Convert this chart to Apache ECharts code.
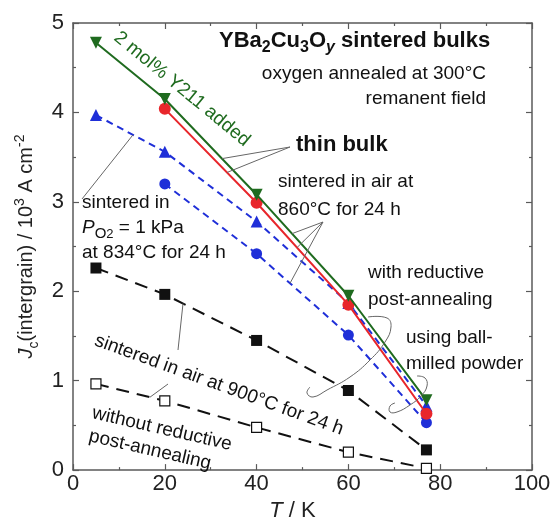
<!DOCTYPE html>
<html>
<head>
<meta charset="utf-8">
<script src="https://cdn.jsdelivr.net/npm/echarts@6/dist/echarts.min.js"></script>
<style>
  html, body { margin: 0; padding: 0; background: #fff; }
  #chart { width: 556px; height: 527px; }
</style>
</head>
<body>
<div id="chart"></div>
<script>
// temperatures (K) and Jc(intergrain) in 10^3 A/cm^2
const temps = [5, 20, 40, 60, 77]
const y211Added = [4.78, 4.15, 3.08, 1.95, 0.78]
const thinBulk = [null, 4.04, 2.99, 1.85, 0.63]
const po2Sintered = [3.97, 3.56, 2.78, 1.87, 0.72]
const ballMilled = [null, 3.2, 2.42, 1.51, 0.53]
const air900Reduced = [2.26, 1.965, 1.45, 0.89, 0.226]
const air900Plain = [0.964, 0.775, 0.477, 0.2, 0.02]

const FONT = "'Liberation Sans', Arial, sans-serif"
const AXIS_COLOR = "#5a5a5a"
const LEADER = "#666"

const pairs = (vals) => temps.map((t, i) => [t, vals[i]]).filter((p) => p[1] != null)

// point on a drawn series line at temperature x (for annotation leaders)
function onLine(vals, x) {
  for (let i = 0; i < temps.length - 1; i++) {
    if (vals[i] == null || vals[i + 1] == null) continue
    if (x >= temps[i] && x <= temps[i + 1]) {
      const f = (x - temps[i]) / (temps[i + 1] - temps[i])
      return [x, vals[i] + f * (vals[i + 1] - vals[i])]
    }
  }
  return [x, vals[0]]
}

const chart = echarts.init(document.getElementById("chart"), null, { renderer: "canvas" })

const axisCommon = {
  type: "value",
  axisLine: { show: true, onZero: false, lineStyle: { color: AXIS_COLOR, width: 1.5 } },
  axisTick: { show: true, inside: true, length: 6, lineStyle: { color: AXIS_COLOR, width: 1.2 } },
  minorTick: { show: true, splitNumber: 2, length: 3, lineStyle: { color: AXIS_COLOR, width: 1.2 } },
  splitLine: { show: false },
}

const line = (name, vals, color, symbol, opts = {}) => ({
  name,
  type: "line",
  data: pairs(vals),
  symbol,
  symbolSize: opts.size || 11,
  symbolRotate: opts.rotate || 0,
  itemStyle: { color: opts.fill || color, borderColor: color, borderWidth: opts.border || 0 },
  lineStyle: { color, width: 2, type: opts.dash || "solid" },
  emphasis: { disabled: true },
  z: opts.z || 2,
})

chart.setOption({
  animation: false,
  textStyle: { fontFamily: FONT },
  grid: { left: 73, right: 24, top: 23, bottom: 46 },
  xAxis: [
    {
      ...axisCommon,
      min: 0, max: 100, interval: 20,
      position: "bottom",
      axisLabel: { fontSize: 22, color: "#222", margin: 3, fontFamily: FONT },
      name: "{i|T} / K",
      nameLocation: "middle",
      nameGap: 27,
      nameTextStyle: {
        fontSize: 22, color: "#222", fontFamily: FONT, padding: [0, 20, 0, 0],
        rich: { i: { fontSize: 22, fontStyle: "italic", fontFamily: FONT } },
      },
    },
    { ...axisCommon, min: 0, max: 100, interval: 20, position: "top", axisLabel: { show: false } },
  ],
  yAxis: [
    {
      ...axisCommon,
      min: 0, max: 5, interval: 1,
      position: "left",
      axisLabel: { fontSize: 22, color: "#222", margin: 9, fontFamily: FONT },
      name: "{i|J}{sub|c}{n|(intergrain) / 10}{sup|3}{n| A cm}{sup|-2}",
      nameLocation: "middle",
      nameGap: 27,
      nameTextStyle: {
        color: "#222",
        rich: {
          n: { fontSize: 20, lineHeight: 28, fontFamily: FONT, color: "#222" },
          i: { fontSize: 20, lineHeight: 28, fontStyle: "italic", fontFamily: FONT, color: "#222" },
          sub: { fontSize: 14, verticalAlign: "bottom", fontFamily: FONT, color: "#222" },
          sup: { fontSize: 14, verticalAlign: "top", fontFamily: FONT, color: "#222" },
        },
      },
    },
    { ...axisCommon, min: 0, max: 5, interval: 1, position: "right", axisLabel: { show: false } },
  ],
  series: [
    line("without reductive", air900Plain, "#111", "rect", { fill: "#fff", border: 1.2, size: 10, dash: [13, 8] }),
    line("air 900", air900Reduced, "#111", "rect", { size: 11, dash: [13, 8] }),
    line("ball-milled", ballMilled, "#1f2fd8", "circle", { dash: [7, 5] }),
    line("PO2", po2Sintered, "#1f2fd8", "triangle", { size: 12, dash: [7, 5] }),
    line("thin bulk", thinBulk, "#e8262b", "circle", { size: 12, z: 3 }),
    line("Y211", y211Added, "#1f6b1f", "triangle", { size: 12, rotate: 180, z: 4 }),
  ],
})

const px = (p) => chart.convertToPixel({ gridIndex: 0 }, p)
const fromPx = (x, y) => chart.convertFromPixel({ gridIndex: 0 }, [x, y])

const txt = (x, y, text, extra = {}) => ({
  type: "text",
  x, y,
  rotation: extra.rotation || 0,
  z: 10,
  style: {
    text,
    fill: extra.fill || "#111",
    fontSize: extra.fontSize || 19,
    fontFamily: FONT,
    fontWeight: extra.bold ? "bold" : "normal",
    align: extra.align || "left",
    verticalAlign: "middle",
    rich: extra.rich,
  },
})

const seg = (a, b) => ({
  type: "polyline",
  z: 9,
  shape: { points: [a, b] },
  style: { stroke: LEADER, lineWidth: 1, fill: null },
})
const hook = (points) => ({
  type: "polyline",
  z: 9,
  shape: { points, smooth: 0.45 },
  style: { stroke: LEADER, lineWidth: 1, fill: null },
})

const deg = Math.PI / 180
const thinAnchor = [290, 147]
const air860Anchor = [323, 222]

chart.setOption({
  graphic: [
    txt(219, 41, "{b|YBa}{bs|2}{b|Cu}{bs|3}{b|O}{bsi|y}{b| sintered bulks}", {
      rich: {
        b: { fontSize: 22, fontWeight: "bold", fontFamily: FONT, lineHeight: 30, fill: "#111" },
        bs: { fontSize: 16, fontWeight: "bold", fontFamily: FONT, verticalAlign: "bottom", fill: "#111" },
        bsi: { fontSize: 16, fontWeight: "bold", fontStyle: "italic", fontFamily: FONT, verticalAlign: "bottom", fill: "#111" },
      },
    }),
    txt(486, 74, "oxygen annealed at 300°C", { align: "right" }),
    txt(486, 99, "remanent field", { align: "right" }),
    txt(296, 145, "thin bulk", { bold: true, fontSize: 22 }),
    txt(278, 182, "sintered in air at"),
    txt(278, 210, "860°C for 24 h"),
    txt(368, 273, "with reductive"),
    txt(368, 300, "post-annealing"),
    txt(406, 338, "using ball-"),
    txt(406, 364, "milled powder"),
    txt(82, 203, "sintered in"),
    txt(82, 228, "{i|P}{s|O}{s2|2}{n| = 1 kPa}", {
      rich: {
        n: { fontSize: 19, fontFamily: FONT, lineHeight: 26, fill: "#111" },
        i: { fontSize: 19, fontStyle: "italic", fontFamily: FONT, lineHeight: 26, fill: "#111" },
        s: { fontSize: 15, fontFamily: FONT, verticalAlign: "bottom", fill: "#111" },
        s2: { fontSize: 13, fontFamily: FONT, verticalAlign: "bottom", fill: "#111" },
      },
    }),
    txt(82, 253, "at 834°C for 24 h"),
    txt(182, 89, "2 mol% Y211 added", { align: "center", rotation: -39.4 * deg, fill: "#1f6b1f" }),
    txt(219, 385, "sintered in air at 900°C for 24 h", { align: "center", rotation: -20 * deg }),
    txt(162, 429, "without reductive", { align: "center", rotation: -13 * deg }),
    txt(150, 450, "post-annealing", { align: "center", rotation: -13 * deg }),

    // leaders
    seg([82, 199], px(onLine(po2Sintered, fromPx(133, 0)[0]))),
    seg(thinAnchor, px(onLine(y211Added, fromPx(222, 0)[0]))),
    seg(thinAnchor, px(onLine(thinBulk, fromPx(227, 0)[0]))),
    seg(air860Anchor, px(onLine(y211Added, fromPx(292, 0)[0]))),
    seg(air860Anchor, px(onLine(thinBulk, fromPx(297, 0)[0]))),
    seg(air860Anchor, px(onLine(ballMilled, fromPx(290, 0)[0]))),
    seg([178, 350], px(onLine(air900Reduced, fromPx(183, 0)[0]))),
    seg([168, 384], px(onLine(air900Plain, fromPx(150, 0)[0]))),
    hook([[368, 317], [387, 318], [391, 327], [385, 342], [370, 360], [350, 377], [327, 390], [313, 397], [307, 393], [310, 387]]),
    hook([[417, 376], [425, 378], [427, 386], [421, 396], [410, 405], [397, 412], [390, 412], [390, 406], [395, 403]]),
  ],
})
</script>
</body>
</html>
